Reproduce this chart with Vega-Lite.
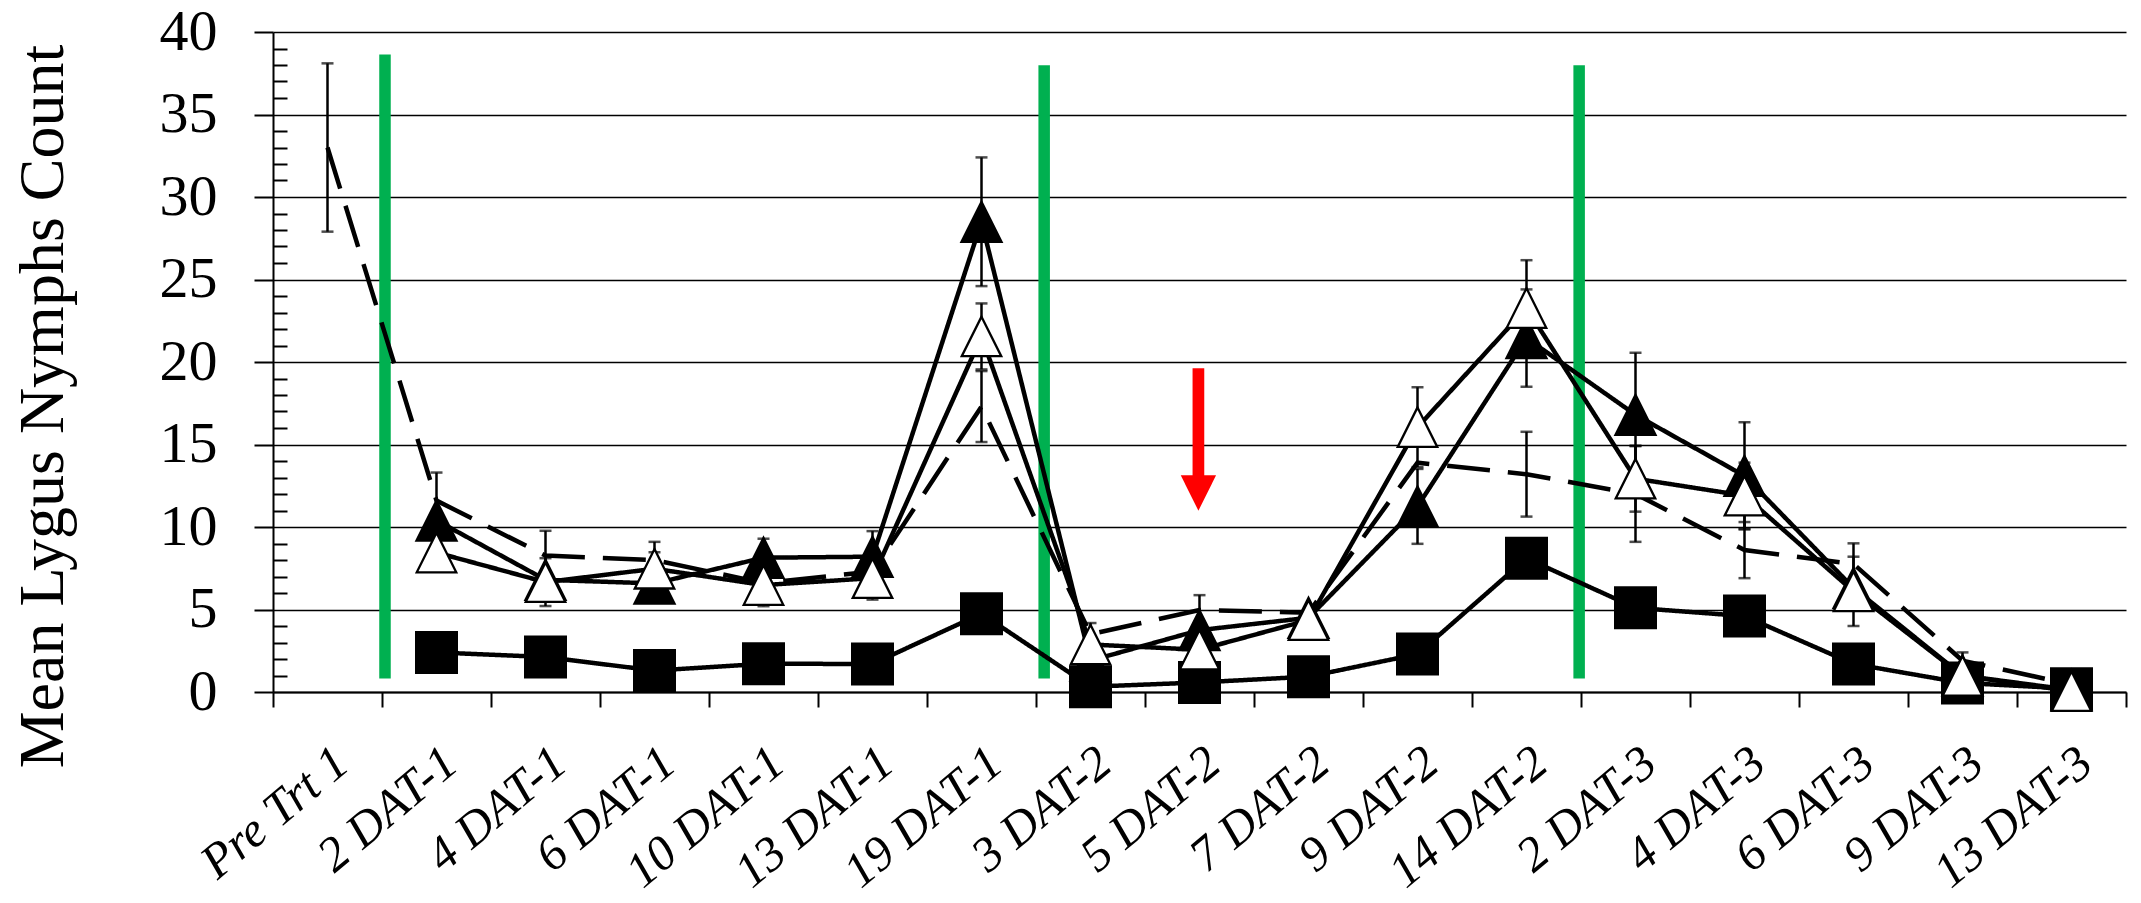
{
  "$schema": "https://vega.github.io/schema/vega-lite/v6.json",
  "width": 1853,
  "height": 660,
  "autosize": {"type": "none"},
  "padding": {"left": 273, "top": 32, "right": 15, "bottom": 211},
  "background": "white",
  "config": {"view": {"stroke": null}},
  "datasets": {
    "series": [
      {"cat": "Pre Trt 1", "series": "C", "v": 33.0, "err": 5.1},
      {"cat": "2 DAT-1", "series": "C", "v": 11.6, "err": 1.7},
      {"cat": "4 DAT-1", "series": "C", "v": 8.27, "err": 1.5},
      {"cat": "6 DAT-1", "series": "C", "v": 8.0, "err": 1.1},
      {"cat": "10 DAT-1", "series": "C", "v": 6.6, "err": 0},
      {"cat": "13 DAT-1", "series": "C", "v": 7.3, "err": 0},
      {"cat": "19 DAT-1", "series": "C", "v": 17.3, "err": 2.15},
      {"cat": "3 DAT-2", "series": "C", "v": 3.5, "err": 0},
      {"cat": "5 DAT-2", "series": "C", "v": 4.97, "err": 0.9},
      {"cat": "7 DAT-2", "series": "C", "v": 4.8, "err": 0},
      {"cat": "9 DAT-2", "series": "C", "v": 13.9, "err": 0},
      {"cat": "14 DAT-2", "series": "C", "v": 13.2, "err": 2.57},
      {"cat": "2 DAT-3", "series": "C", "v": 12.0, "err": 2.9},
      {"cat": "4 DAT-3", "series": "C", "v": 8.6, "err": 1.7},
      {"cat": "6 DAT-3", "series": "C", "v": 7.76, "err": 1.25},
      {"cat": "9 DAT-3", "series": "C", "v": 1.9, "err": 0.5},
      {"cat": "13 DAT-3", "series": "C", "v": 0.45, "err": 0},

      {"cat": "2 DAT-1", "series": "D", "v": 2.4, "err": 0},
      {"cat": "4 DAT-1", "series": "D", "v": 2.12, "err": 0},
      {"cat": "6 DAT-1", "series": "D", "v": 1.3, "err": 0},
      {"cat": "10 DAT-1", "series": "D", "v": 1.71, "err": 0},
      {"cat": "13 DAT-1", "series": "D", "v": 1.7, "err": 0},
      {"cat": "19 DAT-1", "series": "D", "v": 4.75, "err": 0},
      {"cat": "3 DAT-2", "series": "D", "v": 0.32, "err": 0},
      {"cat": "5 DAT-2", "series": "D", "v": 0.58, "err": 0},
      {"cat": "7 DAT-2", "series": "D", "v": 0.93, "err": 0},
      {"cat": "9 DAT-2", "series": "D", "v": 2.3, "err": 0},
      {"cat": "14 DAT-2", "series": "D", "v": 8.1, "err": 0},
      {"cat": "2 DAT-3", "series": "D", "v": 5.1, "err": 0},
      {"cat": "4 DAT-3", "series": "D", "v": 4.6, "err": 0},
      {"cat": "6 DAT-3", "series": "D", "v": 1.7, "err": 0},
      {"cat": "9 DAT-3", "series": "D", "v": 0.55, "err": 0},
      {"cat": "13 DAT-3", "series": "D", "v": 0.2, "err": 0},

      {"cat": "2 DAT-1", "series": "A", "v": 10.4, "err": 0},
      {"cat": "4 DAT-1", "series": "A", "v": 6.8, "err": 0},
      {"cat": "6 DAT-1", "series": "A", "v": 6.58, "err": 0},
      {"cat": "10 DAT-1", "series": "A", "v": 8.14, "err": 1.15},
      {"cat": "13 DAT-1", "series": "A", "v": 8.2, "err": 1.55},
      {"cat": "19 DAT-1", "series": "A", "v": 28.5, "err": 3.9},
      {"cat": "3 DAT-2", "series": "A", "v": 1.9, "err": 0},
      {"cat": "5 DAT-2", "series": "A", "v": 3.75, "err": 0},
      {"cat": "7 DAT-2", "series": "A", "v": 4.5, "err": 0},
      {"cat": "9 DAT-2", "series": "A", "v": 11.25, "err": 2.27},
      {"cat": "14 DAT-2", "series": "A", "v": 21.45, "err": 2.95},
      {"cat": "2 DAT-3", "series": "A", "v": 16.8, "err": 3.76},
      {"cat": "4 DAT-3", "series": "A", "v": 13.1, "err": 3.25},
      {"cat": "6 DAT-3", "series": "A", "v": 6.3, "err": 0},
      {"cat": "9 DAT-3", "series": "A", "v": 1.0, "err": 0},
      {"cat": "13 DAT-3", "series": "A", "v": 0.12, "err": 0},

      {"cat": "2 DAT-1", "series": "B", "v": 8.45, "err": 0},
      {"cat": "4 DAT-1", "series": "B", "v": 6.66, "err": 1.45},
      {"cat": "6 DAT-1", "series": "B", "v": 7.47, "err": 1.0},
      {"cat": "10 DAT-1", "series": "B", "v": 6.48, "err": 1.28},
      {"cat": "13 DAT-1", "series": "B", "v": 6.9, "err": 1.3},
      {"cat": "19 DAT-1", "series": "B", "v": 21.55, "err": 2.0},
      {"cat": "3 DAT-2", "series": "B", "v": 2.88, "err": 1.3},
      {"cat": "5 DAT-2", "series": "B", "v": 2.56, "err": 0},
      {"cat": "7 DAT-2", "series": "B", "v": 4.36, "err": 0},
      {"cat": "9 DAT-2", "series": "B", "v": 16.05, "err": 2.42},
      {"cat": "14 DAT-2", "series": "B", "v": 23.27, "err": 2.9},
      {"cat": "2 DAT-3", "series": "B", "v": 12.93, "err": 2.0},
      {"cat": "4 DAT-3", "series": "B", "v": 11.9, "err": 2.0},
      {"cat": "6 DAT-3", "series": "B", "v": 6.1, "err": 2.1},
      {"cat": "9 DAT-3", "series": "B", "v": 0.98, "err": 0},
      {"cat": "13 DAT-3", "series": "B", "v": 0.05, "err": 0}
    ],
    "greens": [
      {"pos": 1.0275, "lo": 0.82, "hi": 38.63},
      {"pos": 7.075, "lo": 0.82, "hi": 37.98},
      {"pos": 11.983, "lo": 0.82, "hi": 37.98}
    ],
    "arrow": [
      {"pos": 8.49, "top": 19.62, "bottom": 12.8, "head": 12.06}
    ]
  },
  "layer": [
    {
      "data": {"name": "greens"},
      "mark": {"type": "rule", "color": "#00B050", "strokeWidth": 11.5},
      "encoding": {
        "x": {"field": "pos", "type": "quantitative", "scale": {"domain": [0, 17], "nice": false, "zero": false}, "axis": null},
        "y": {
          "field": "lo", "type": "quantitative",
          "scale": {"domain": [0, 40], "nice": false},
          "axis": {
            "orient": "left",
            "values": [1,2,3,4,6,7,8,9,11,12,13,14,16,17,18,19,21,22,23,24,26,27,28,29,31,32,33,34,36,37,38,39],
            "tickSize": -14, "tickColor": "black", "tickWidth": 2,
            "labels": false, "domain": false, "grid": false, "title": null
          }
        },
        "y2": {"field": "hi"}
      }
    },
    {
      "data": {"name": "series"},
      "encoding": {
        "x": {
          "field": "cat", "type": "nominal",
          "sort": ["Pre Trt 1","2 DAT-1","4 DAT-1","6 DAT-1","10 DAT-1","13 DAT-1","19 DAT-1","3 DAT-2","5 DAT-2","7 DAT-2","9 DAT-2","14 DAT-2","2 DAT-3","4 DAT-3","6 DAT-3","9 DAT-3","13 DAT-3"],
          "scale": {"type": "band", "paddingInner": 0, "paddingOuter": 0},
          "axis": {
            "title": null, "labelAngle": -40, "labelAlign": "right", "labelBaseline": "middle",
            "labelFont": "Liberation Serif", "labelFontSize": 49, "labelFontStyle": "italic",
            "labelColor": "black", "labelPadding": 49, "labelOffset": 14, "labelLimit": 500, "labelOverlap": false,
            "tickBand": "extent", "tickSize": 15, "tickColor": "black", "tickWidth": 2,
            "domainColor": "black", "domainWidth": 2, "grid": false
          }
        },
        "y": {
          "field": "v", "type": "quantitative",
          "scale": {"domain": [0, 40], "nice": false},
          "axis": {
            "orient": "left",
            "values": [0,5,10,15,20,25,30,35,40],
            "grid": true, "gridColor": "black", "gridWidth": 1.6, "gridOpacity": 1,
            "tickSize": 19, "tickColor": "black", "tickWidth": 2,
            "domainColor": "black", "domainWidth": 2,
            "labelFont": "Liberation Serif", "labelFontSize": 58, "labelColor": "black", "labelPadding": 37,
            "title": "Mean Lygus Nymphs Count", "titleFont": "Liberation Serif", "titleFontSize": 64,
            "titleFontWeight": "normal", "titleColor": "black", "titleAngle": -90,
            "titleX": -211, "titleY": 374, "titleAlign": "center", "titleBaseline": "alphabetic"
          }
        }
      },
      "layer": [
        {
          "mark": {"type": "line", "strokeWidth": 4.5, "color": "black"},
          "encoding": {
            "detail": {"field": "series"},
            "strokeDash": {
              "field": "series", "type": "nominal",
              "scale": {"domain": ["A","B","C","D"], "range": [[1,0],[1,0],[43,18],[1,0]]},
              "legend": null
            }
          }
        },
        {
          "transform": [{"filter": "datum.err > 0"}],
          "mark": {
            "type": "errorbar",
            "ticks": {"size": 12, "thickness": 2.5, "color": "black"},
            "rule": {"strokeWidth": 2.5, "color": "black"}
          },
          "encoding": {"yError": {"field": "err"}, "detail": {"field": "series"}}
        },
        {
          "transform": [{"filter": "datum.series === 'D'"}],
          "mark": {"type": "point", "shape": "square", "filled": true, "color": "black", "size": 1849, "opacity": 1}
        },
        {
          "transform": [{"filter": "datum.series === 'A'"}],
          "mark": {"type": "point", "shape": "M0,-1L1,1L-1,1Z", "filled": true, "fill": "black", "stroke": "black", "strokeWidth": 2, "size": 1640, "opacity": 1}
        },
        {
          "transform": [{"filter": "datum.series === 'B'"}],
          "mark": {"type": "point", "shape": "M0,-1L1,1L-1,1Z", "filled": true, "fill": "white", "stroke": "black", "strokeWidth": 2.3, "size": 1560, "opacity": 1, "fillOpacity": 1, "strokeOpacity": 1}
        }
      ]
    },
    {
      "data": {"name": "arrow"},
      "encoding": {
        "x": {"field": "pos", "type": "quantitative", "scale": {"domain": [0, 17], "nice": false, "zero": false}, "axis": null}
      },
      "layer": [
        {
          "mark": {"type": "rule", "color": "#FF0000", "strokeWidth": 11.7},
          "encoding": {
            "y": {"field": "top", "type": "quantitative", "scale": {"domain": [0, 40], "nice": false}, "axis": null},
            "y2": {"field": "bottom"}
          }
        },
        {
          "mark": {"type": "point", "shape": "M-1,-1L1,-1L0,1Z", "filled": true, "color": "#FF0000", "size": 1250, "opacity": 1},
          "encoding": {
            "y": {"field": "head", "type": "quantitative", "scale": {"domain": [0, 40], "nice": false}, "axis": null}
          }
        }
      ]
    }
  ],
  "resolve": {"scale": {"x": "independent"}, "axis": {"y": "independent"}}
}
